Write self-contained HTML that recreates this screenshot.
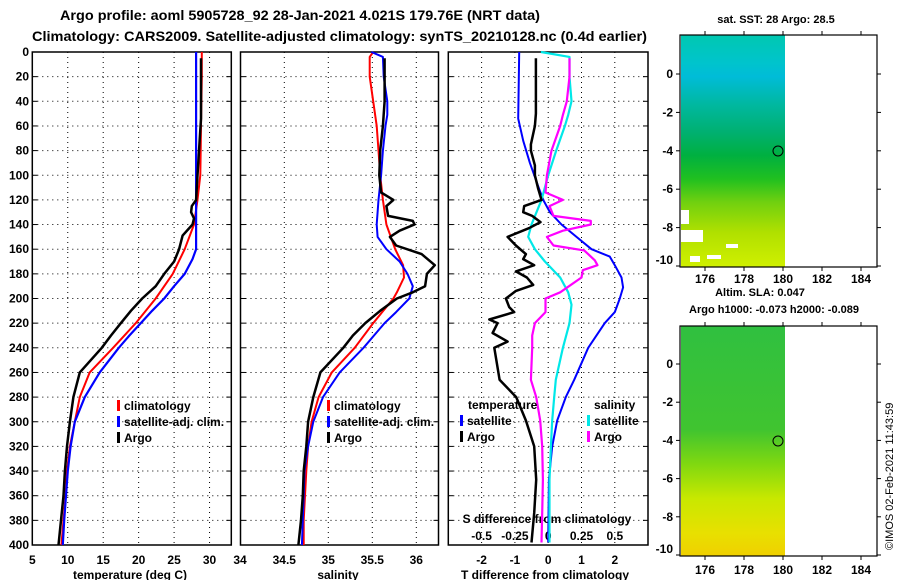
<!DOCTYPE html>
<html><head><meta charset="utf-8"><style>
html,body{margin:0;padding:0;background:#fff;}
svg{display:block;font-family:"Liberation Sans",sans-serif;font-weight:bold;}
</style></head><body>
<svg id="c" width="900" height="580" viewBox="0 0 900 580">
<defs>
<linearGradient id="sstG" x1="0" y1="0" x2="0" y2="1">
<stop offset="0" stop-color="#00c8b0"/><stop offset="0.12" stop-color="#00c4cc"/><stop offset="0.18" stop-color="#00bcd8"/>
<stop offset="0.3" stop-color="#00b8a0"/><stop offset="0.42" stop-color="#00b070"/><stop offset="0.52" stop-color="#00b040"/>
<stop offset="0.62" stop-color="#20c020"/><stop offset="0.72" stop-color="#70d010"/><stop offset="0.85" stop-color="#b0e000"/><stop offset="1" stop-color="#d0f000"/>
</linearGradient>
<linearGradient id="slaG" x1="0" y1="0" x2="0" y2="1">
<stop offset="0" stop-color="#30c040"/><stop offset="0.45" stop-color="#40c430"/><stop offset="0.6" stop-color="#80d810"/>
<stop offset="0.75" stop-color="#c8e800"/><stop offset="0.9" stop-color="#e8e000"/><stop offset="1" stop-color="#f0d000"/>
</linearGradient>
</defs>
<g id="titles" font-size="14">
<text x="60" y="20" textLength="480" lengthAdjust="spacingAndGlyphs">Argo profile: aoml 5905728_92 28-Jan-2021 4.021S 179.76E (NRT data)</text>
<text x="32" y="41" textLength="615" lengthAdjust="spacingAndGlyphs">Climatology: CARS2009. Satellite-adjusted climatology: synTS_20210128.nc (0.4d earlier)</text>
</g>
<g id="plots"></g>
<g id="maps">
<rect x="681" y="35" width="104" height="232" fill="url(#sstG)"/>
<rect x="681" y="230" width="22" height="12" fill="#fff"/>
<rect x="681" y="210" width="8" height="14" fill="#fff"/>
<rect x="707" y="255" width="14" height="4" fill="#fff"/>
<rect x="726" y="244" width="12" height="4" fill="#fff"/>
<rect x="690" y="256" width="10" height="6" fill="#fff"/>
<rect x="680" y="35" width="197" height="232" fill="none" stroke="#000" stroke-width="1.2"/>
<circle cx="778" cy="151" r="5" fill="none" stroke="#000"/>
<text x="776" y="23" font-size="11" text-anchor="middle">sat. SST: 28 Argo: 28.5</text>
<text x="760" y="296" font-size="11" text-anchor="middle">Altim. SLA: 0.047</text>
<text x="774" y="313" font-size="11" text-anchor="middle">Argo h1000: -0.073 h2000: -0.089</text>
<rect x="681" y="326" width="104" height="230" fill="url(#slaG)"/>
<rect x="680" y="326" width="197" height="230" fill="none" stroke="#000" stroke-width="1.2"/>
<circle cx="778" cy="441" r="5" fill="none" stroke="#000"/>
<text transform="translate(893,550) rotate(-90)" font-size="11" font-weight="normal">©IMOS 02-Feb-2021 11:43:59</text>
</g>
</svg>
<script>
// ---- data ----
const depthRedT=[0,20,40,60,80,100,120,140,160,180,200,220,240,260,280,300,320,340,360,380,400];
const tempClim=[28.9,28.9,28.85,28.8,28.75,28.7,28.3,27.8,26.5,24.8,22.4,19.6,16.4,13.1,11.7,11.0,10.3,9.9,9.7,9.4,9.1];
const depthBlueT=[0,40,80,120,140,160,168,180,190,200,210,220,230,240,260,280,300,320,340,360,380,400];
const tempSat=[28.1,28.1,28.1,28.1,28.1,28.1,27.6,26.5,25.0,23.6,21.9,20.3,18.7,17.2,14.5,12.4,11.0,10.4,10.0,9.75,9.5,9.3];
const depthArgoT=[5,54,100,120,125,130,135,140,149,160,170,180,190,200,210,220,230,240,260,280,300,320,340,360,380,400];
const tempArgo=[28.8,28.8,28.3,28.1,27.5,27.4,27.8,27.6,26.2,25.7,25.0,23.6,22.4,20.5,18.9,17.5,16.1,14.8,11.7,10.8,10.3,9.9,9.6,9.4,9.05,8.7];

const depthRedS=[0,4,20,40,60,80,100,120,140,160,173,183,195,200,220,240,260,280,300,320,340,360,380,400];
const salClim=[35.51,35.47,35.47,35.51,35.55,35.57,35.59,35.62,35.66,35.76,35.85,35.86,35.78,35.74,35.51,35.30,35.04,34.89,34.81,34.77,34.75,34.735,34.72,34.72];
const depthBlueS=[0,4,20,40,51,60,80,100,120,140,150,160,170,180,190,200,211,220,240,260,280,300,320,340,360,380,400];
const salSat=[35.49,35.62,35.63,35.67,35.67,35.65,35.62,35.60,35.57,35.55,35.56,35.66,35.81,35.90,35.96,35.92,35.77,35.64,35.40,35.13,34.94,34.83,34.77,34.73,34.72,34.71,34.70];
const depthArgoS=[5,20,40,60,80,100,114,120,125,133,137,140,145,150,157,164,173,180,190,195,200,210,220,230,240,260,280,300,320,340,360,380,400];
const salArgo=[35.64,35.64,35.64,35.62,35.59,35.58,35.60,35.74,35.66,35.68,35.96,35.98,35.81,35.70,35.77,36.06,36.21,36.12,36.10,35.96,35.78,35.59,35.42,35.28,35.17,34.91,34.83,34.77,34.75,34.72,34.71,34.69,34.66];

const depthDT=[5,50,60,75,80,92,100,111,120,125,130,133,138,143,150,157,164,168,173,178,183,189,194,200,207,211,217,220,228,235,240,266,280,299,320,347,374,398];
const dTArgo=[-0.37,-0.37,-0.40,-0.52,-0.52,-0.40,-0.40,-0.30,-0.20,-0.72,-0.75,-0.48,-0.23,-0.58,-1.22,-0.97,-0.67,-0.75,-0.42,-0.97,-0.64,-0.45,-0.98,-1.27,-1.17,-1.02,-1.77,-1.52,-1.67,-1.22,-1.62,-1.46,-0.96,-0.67,-0.42,-0.36,-0.42,-0.50];
const depthDTs=[0,54,72,90,109,120,130,140,150,160,166,173,183,191,200,211,220,240,266,280,299,320,347,398];
const dTSat=[-0.87,-0.90,-0.75,-0.55,-0.30,-0.15,0.05,0.40,0.85,1.30,1.85,2.00,2.20,2.25,2.15,2.00,1.70,1.20,0.78,0.53,0.27,0.12,0.02,0.0];
const depthDSs=[0,4,20,40,51,60,80,100,120,140,150,160,170,183,195,205,220,240,266,280,299,320,347,398];
const dSSat=[-0.055,0.16,0.16,0.175,0.15,0.125,0.06,0.0,-0.05,-0.125,-0.15,-0.10,-0.025,0.09,0.15,0.175,0.16,0.11,0.057,0.045,0.03,0.02,0.01,0.01];
const depthDSa=[5,20,40,51,60,80,100,114,120,125,133,137,140,145,150,157,161,169,173,177,183,195,200,211,220,230,240,266,280,299,320,347,374,398];
const dSArgo=[0.16,0.16,0.14,0.11,0.09,0.025,-0.01,-0.02,0.11,0.01,0.04,0.32,0.32,0.11,-0.01,0.04,0.27,0.35,0.37,0.26,0.25,0.09,-0.02,-0.02,-0.10,-0.12,-0.12,-0.13,-0.09,-0.06,-0.045,-0.04,-0.045,-0.05];

const depthTicks=[0,20,40,60,80,100,120,140,160,180,200,220,240,260,280,300,320,340,360,380,400];
const tTicks=[5,10,15,20,25,30];
const sTicks=[34.5,35,35.5,36];
const dTTicks=[-2,-1,0,1,2];
const dSTicks=[-0.5,-0.25,0,0.25,0.5];
const latTicks=[0,-2,-4,-6,-8,-10];
const lonTicks=[176,178,180,182,184];

// ---- scales ----
const NS='http://www.w3.org/2000/svg';
const yD=d=>52+d*1.2325;
const xT=t=>32.3+(t-5)*7.09;
const xS=s=>240.3+(s-34)*88;
const xD=v=>448.3+(v+3)*33.3;
const xDS=v=>xD(v*4);
const lonX=l=>705+(l-176)*19.5;
const latYTop=a=>74-a*19.2;
const latYBot=a=>364-a*19.1;
const g=document.getElementById('plots');
function el(tag,attrs,parent){const e=document.createElementNS(NS,tag);for(const k in attrs)e.setAttribute(k,attrs[k]);(parent||g).appendChild(e);return e;}

const panels=[{x0:32.3,x1:231.3,name:'temperature-panel'},{x0:240.5,x1:438.5,name:'salinity-panel'},{x0:448.3,x1:648,name:'difference-panel'}];
panels.forEach((p,i)=>{
  const pg=el('g',{});
  
  
  depthTicks.forEach(d=>{
    if(d>0&&d<400){
      const l=el('line',{x1:p.x0,x2:p.x1,y1:yD(d),y2:yD(d),stroke:'#000','stroke-width':1,'stroke-dasharray':'1,4'},pg);
      
      
      el('line',{x1:p.x0,x2:p.x0+5,y1:yD(d),y2:yD(d),stroke:'#000'},pg);
      el('line',{x1:p.x1-5,x2:p.x1,y1:yD(d),y2:yD(d),stroke:'#000'},pg);
    }
  });
  const ticks=i===0?tTicks.map(xT):i===1?sTicks.map(xS):dTTicks.map(xD);
  ticks.forEach(x=>{
    if(x>p.x0+1&&x<p.x1-1){
      const l=el('line',{x1:x,x2:x,y1:52,y2:545,stroke:'#000','stroke-width':1,'stroke-dasharray':'1,4'},pg);
      
      
    }
  });
  const r=el('rect',{x:p.x0,y:52,width:p.x1-p.x0,height:493,fill:'none',stroke:'#000','stroke-width':1.5},pg);
  
  
});

depthTicks.forEach(d=>{
  const t=el('text',{x:29,y:yD(d)+4,'font-size':12,'text-anchor':'end'});
  t.textContent=d;
  
  
});
function xlab(x,y,txt,name,size){const t=el('text',{x:x,y:y,'font-size':size||12,'text-anchor':'middle'});t.textContent=txt;return t;}
tTicks.forEach(v=>xlab(xT(v),564,v,'temperature-tick-label'));
xlab(240,564,'34','salinity-tick-label');
sTicks.forEach(v=>xlab(xS(v),564,v,'salinity-tick-label'));
dTTicks.forEach(v=>xlab(xD(v),564,v,'t-difference-tick-label'));
dSTicks.forEach(v=>xlab(xDS(v),540,v,'s-difference-tick-label'));
xlab(130,579,'temperature (deg C)','temperature-axis-title');
xlab(338,579,'salinity','salinity-axis-title');
xlab(545,579,'T difference from climatology','t-difference-axis-title');
xlab(547,523,'S difference from climatology','s-difference-axis-title');

function line(xs,ys,fx,color,w,name){
  const pts=xs.map((v,k)=>fx(v).toFixed(1)+','+yD(ys[k]).toFixed(1)).join(' ');
  const pl=el('polyline',{points:pts,fill:'none',stroke:color,'stroke-width':w,'stroke-linejoin':'round'});
  
  
}
line(tempClim,depthRedT,xT,'#ff0000',2,'temperature-climatology-line');
line(tempSat,depthBlueT,xT,'#0000ff',2.2,'temperature-satellite-line');
line(tempArgo,depthArgoT,xT,'#000000',2.5,'temperature-argo-line');
line(salClim,depthRedS,xS,'#ff0000',2,'salinity-climatology-line');
line(salSat,depthBlueS,xS,'#0000ff',2,'salinity-satellite-line');
line(salArgo,depthArgoS,xS,'#000000',2.5,'salinity-argo-line');
line(dTSat,depthDTs,xD,'#0000ff',2,'t-diff-satellite-line');
line(dSSat,depthDSs,xDS,'#00e8e8',2.2,'s-diff-satellite-line');
line(dSArgo,depthDSa,xDS,'#ff00ff',2.2,'s-diff-argo-line');
line(dTArgo,depthDT,xD,'#000000',2.5,'t-diff-argo-line');

function legend(x,y,color,txt){
  const gg=el('g',{});
  
  
  if(color) el('rect',{x:x,y:y-10,width:3,height:11,fill:color},gg);
  const t=el('text',{x:x+7,y:y,'font-size':12},gg);
  t.textContent=txt;
}
legend(117,410,'#ff0000','climatology');
legend(117,426,'#0000ff','satellite-adj. clim.');
legend(117,442,'#000000','Argo');
legend(327,410,'#ff0000','climatology');
legend(327,426,'#0000ff','satellite-adj. clim.');
legend(327,442,'#000000','Argo');
legend(461,409,null,'temperature');
legend(460,425,'#0000ff','satellite');
legend(460,441,'#000000','Argo');
legend(587,409,null,'salinity');
legend(587,425,'#00e8e8','satellite');
legend(587,441,'#ff00ff','Argo');

// map axes
const mg=document.getElementById('maps');
[[latYTop,35,267,283],[latYBot,326,556,574]].forEach(([fy,top,bot,ly])=>{
  latTicks.forEach(a=>{
    const y=Math.min(fy(a),bot);
    el('line',{x1:676,x2:680,y1:y,y2:y,stroke:'#000'},mg);
    el('line',{x1:877,x2:881,y1:y,y2:y,stroke:'#000'},mg);
    const t=el('text',{x:673,y:Math.min(y+4,bot-3),'font-size':12,'text-anchor':'end'},mg);
    t.textContent=a;
    
    
  });
  lonTicks.forEach(l=>{
    const x=lonX(l);
    el('line',{x1:x,x2:x,y1:bot,y2:bot+4,stroke:'#000'},mg);
    el('line',{x1:x,x2:x,y1:top-4,y2:top,stroke:'#000'},mg);
    const t=el('text',{x:x,y:ly,'font-size':12,'text-anchor':'middle'},mg);
    t.textContent=l;
    
    
  });
});
</script>
</body></html>
